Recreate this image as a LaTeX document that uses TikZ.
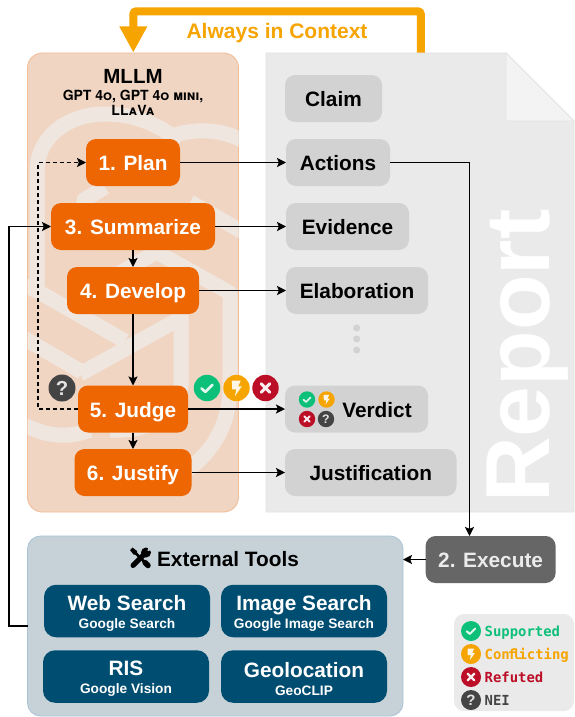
\documentclass[tikz,border=0pt]{standalone}
\usepackage{fontspec}
\setmainfont{Liberation Sans}
\newfontfamily\monof{DejaVu Sans Mono}
\newfontfamily\herosf{TeX Gyre Heros}
\usetikzlibrary{arrows.meta,calc}
\definecolor{panelc}{HTML}{F0D5C2}
\definecolor{paneld}{HTML}{F2BE98}
\definecolor{logoc}{HTML}{F0E6E0}
\definecolor{pagec}{HTML}{EAEAEA}
\definecolor{paged}{HTML}{E3E3E3}
\definecolor{foldc}{HTML}{F3F3F3}
\definecolor{orangec}{HTML}{EE6602}
\definecolor{grayc}{HTML}{D2D2D2}
\definecolor{execc}{HTML}{666666}
\definecolor{toolc}{HTML}{C6D2D8}
\definecolor{toold}{HTML}{A8C4D6}
\definecolor{blueb}{HTML}{004D72}
\definecolor{greenc}{HTML}{0DC07A}
\definecolor{yellowc}{HTML}{F6A400}
\definecolor{redc}{HTML}{BC0E26}
\definecolor{darkc}{HTML}{444444}
\newcommand\fs[1]{\fontsize{#1}{#1}\selectfont}
% symbols on named circles: name, x, y, radius
\newcommand\disc[5]{\node[circle,fill=#5,draw=none,minimum size=#4*2pt,inner sep=0pt,outer sep=0pt] (#1) at (#2,#3) {};}
\newcommand\checkicon[4]{\disc{#1}{#2}{#3}{#4}{greenc}
  \draw[white!88!greenc,line width=#4*.2pt,line cap=round,line join=round,x=#4pt,y=-#4pt,shift={(#1.center)}] (-.42,.03)--(-.12,.3)--(.42,-.25);}
\newcommand\crossicon[4]{\disc{#1}{#2}{#3}{#4}{redc}
  \draw[white!92!redc,line width=#4*.22pt,line cap=round,x=#4pt,y=-#4pt,shift={(#1.center)}] (-.33,-.33)--(.33,.33) (-.33,.33)--(.33,-.33);}
\newcommand\bolticon[4]{\disc{#1}{#2}{#3}{#4}{yellowc}
  \fill[white!90!yellowc,x=#4pt,y=-#4pt,shift={(#1.center)}] (-.35,-.55)--(.32,-.55)--(.12,-.12)--(.4,-.12)--(-.12,.62)--(-.02,.1)--(-.33,.1)--cycle;}
\newcommand\queryicon[4]{\disc{#1}{#2}{#3}{#4}{darkc}
  \pgfmathsetmacro\qsz{#4*1.5}
  \node[text=white!85!darkc,inner sep=0pt,font=\bfseries\fs{\qsz}] at (#1.center) {?};}
\tikzset{
  bx/.style={rectangle,rounded corners=10pt,draw=none,outer sep=0pt,inner sep=0pt,align=center,text height=16pt,text depth=0pt,font=\bfseries\fs{20.8}},
  llmbox/.style={bx,fill=orangec,text=white},
  repbox/.style={bx,fill=grayc,text=black},
  execbox/.style={bx,fill=execc,text=white!92!black},
  toolbox/.style={rectangle,rounded corners=12pt,draw=none,fill=blueb,outer sep=0pt,inner sep=0pt},
  toollabel/.style={inner sep=0pt,text=white,align=center,font=\bfseries\fontsize{20.8}{18}\selectfont},
  conn/.style={line width=1.4pt,-{Stealth[length=9pt,width=9pt,inset=1.8pt]}},
  dashconn/.style={conn,dash pattern=on 4pt off 3pt},
  logoline/.style={logoc,line width=15pt,line cap=butt,line join=round},
  legendtxt/.style={anchor=base west,inner sep=0pt,font=\monof\bfseries\fs{13.9}},
}
\begin{document}
\begin{tikzpicture}[x=1pt,y=-1pt]
\useasboundingbox (0,0) rectangle (574,717);
\fill[white] (0,0) rectangle (574,717);

% named ends of the context connector
\coordinate (ctxstart) at (420.8,54);
\coordinate (ctxtopr) at (420.8,11.3);
\coordinate (ctxtopl) at (133.3,11.3);
\coordinate (ctxend) at (133.3,52.5);
\draw[yellowc,line width=8pt,rounded corners=3pt,-{Triangle[length=26pt,width=26pt]}] (ctxstart)--(ctxtopr)--(ctxtopl)--(ctxend);
\node[text=yellowc,inner sep=0pt,font=\bfseries\fs{21}] (always) at (277,33) {Always in Context};

% MLLM panel
\node[rectangle,rounded corners=15pt,fill=panelc,draw=paneld,line width=.9pt,minimum width=211pt,minimum height=459pt,outer sep=0pt] (mllm) at (133,282.5) {};
\begin{scope}
\clip[rounded corners=15pt] (27.5,53) rectangle (238.5,512);
\draw[logoline] (37,292)--(37,172) .. controls (37,135) and (70,114) .. (105,114) .. controls (135,114) and (160,125) .. (180,142);
\draw[logoline] (172,136) .. controls (195,128) and (225,128) .. (250,145);
\draw[logoline] (15,281)--(37,291)--(125,341);
\draw[logoline] (15,333)--(82,372);
\draw[logoline] (80,374)--(181,318);
\draw[logoline] (181,311)--(181,385) .. controls (181,412) and (155,432) .. (110,430);
\draw[logoline] (153,250)--(230,293)--(230,385) .. controls (230,425) and (212,455) .. (180,475);
\draw[logoline] (190,202)--(250,236);
\draw[logoline] (84,250)--(84,200)--(105,187);
\draw[logoline] (165,247)--(120,273);
\draw[logoline] (15,420) .. controls (40,435) and (65,440) .. (90,430);
\end{scope}
\node[inner sep=0pt,font=\bfseries\fs{20.5}] (mllmt) at (133,76) {MLLM};
\node[inner sep=0pt,align=center,font=\herosf\bfseries\scshape\fontsize{14}{15}\selectfont] (mllms) at (133,103) {GPT 4o, GPT 4o mini,\\LLaVa};

% Report page
\coordinate (pa) at (266,53);
\coordinate (pb) at (506,53);
\coordinate (pc) at (574,121);
\coordinate (pd) at (574,512);
\coordinate (pe) at (266,512);
\coordinate (pf) at (506,121);
\filldraw[fill=pagec,draw=paged,line width=.8pt] (pa)--(pb)--(pc)--(pd)--(pe)--cycle;
\filldraw[fill=foldc,draw=paged,line width=.8pt] (pb)--(pc)--(pf)--cycle;
\node[rotate=90,anchor=base west,inner sep=0pt,text=white,font=\bfseries\fs{91}] (report) at (549,503) {Report};

% steps
\node[llmbox,minimum width=94pt,minimum height=47pt] (plan) at (133,162.5) {1. Plan};
\node[llmbox,minimum width=164pt,minimum height=47pt] (summ) at (133,226.5) {3. Summarize};
\node[llmbox,minimum width=132pt,minimum height=47pt] (dev) at (133,290.5) {4. Develop};
\node[llmbox,minimum width=110pt,minimum height=47pt] (judge) at (133,409) {5. Judge};
\node[llmbox,minimum width=117pt,minimum height=47pt] (just) at (133,472.5) {6. Justify};

% report entries
\node[repbox,minimum width=97pt,minimum height=47pt] (claim) at (333.5,98.5) {Claim};
\node[repbox,minimum width=104pt,minimum height=47pt] (actions) at (338,162.5) {Actions};
\node[repbox,minimum width=123pt,minimum height=47pt] (evid) at (347.5,226.5) {Evidence};
\node[repbox,minimum width=142pt,minimum height=47pt] (elab) at (357,290.5) {Elaboration};
\node[repbox,minimum width=143pt,minimum height=47pt] (verd) at (356.5,409) {};
\node[inner sep=0pt,text height=16pt,text depth=0pt,font=\bfseries\fs{20.8}] (verdt) at (377,409) {Verdict};
\node[repbox,minimum width=171.5pt,minimum height=47pt] (justn) at (370.75,472.5) {Justification};
\fill[grayc] (356.7,328) circle (3.5) (356.7,339) circle (3.5) (356.7,350) circle (3.5);

% verdict icons
\checkicon{ga}{207}{388}{13.2}
\bolticon{ya}{236.5}{388}{13.2}
\crossicon{ra}{265.5}{388}{13.2}
\queryicon{qa}{62}{388}{13.5}
\checkicon{gb}{307}{399.5}{8.2}
\bolticon{yb}{326.5}{399.5}{8.2}
\crossicon{rb}{307}{419}{8.2}
\queryicon{qb}{326}{419}{8.2}

% execute and tools
\node[execbox,minimum width=130pt,minimum height=47pt] (exec) at (490.6,559.5) {2. Execute};
\node[rectangle,rounded corners=13pt,fill=toolc,draw=toold,line width=.8pt,minimum width=375.5pt,minimum height=180pt,outer sep=0pt] (ext) at (215.25,626) {};
\node[inner sep=0pt,text height=16pt,text depth=0pt,font=\bfseries\fs{20.8}] (extt) at (228,558) {External Tools};
\begin{scope}[shift={(140.5,558)}]
  \draw[black,line width=2.6pt] (-6,-6)--(5,5);
  \draw[black,line width=5.5pt,line cap=round] (4.5,4.5)--(7.5,7.5);
  \fill[black] (-10.5,-8)--(-8,-10.5)--(-3.5,-7)--(-3,-3)--(-7,-3.5)--cycle;
  \draw[black,line width=5pt,line cap=round] (-7.5,7.5)--(4,-4);
  \fill[black] (5.5,-5.5) circle (5);
  \fill[toolc] (7,-7)--(8,-11.5)--(12,-11.5)--(12,-8)--cycle;
\end{scope}
\node[toolbox,minimum width=166pt,minimum height=52.5pt] (web) at (127,611) {};
\node[toollabel,yshift=-2.5pt] (webt) at (web) {Web Search\\{\bfseries\fs{13.7}Google Search}};
\node[toolbox,minimum width=166pt,minimum height=52.5pt] (img) at (304,611) {};
\node[toollabel,yshift=-2.5pt] (imgt) at (img) {Image Search\\{\bfseries\fs{13.7}Google Image Search}};
\node[toolbox,minimum width=166pt,minimum height=52.5pt] (ris) at (126,676.5) {};
\node[toollabel,yshift=-2.5pt] (rist) at (ris) {RIS\\{\bfseries\fs{13.7}Google Vision}};
\node[toolbox,minimum width=166pt,minimum height=52.5pt] (geo) at (304,676.5) {};
\node[toollabel,yshift=-2.5pt] (geot) at (geo) {Geolocation\\{\bfseries\fs{13.7}GeoCLIP}};

% legend
\node[rectangle,rounded corners=10pt,fill=pagec,draw=none,minimum width=120pt,minimum height=97pt,outer sep=0pt] (legend) at (514,662.5) {};
\checkicon{lg}{471}{631}{10}
\bolticon{ly}{471}{654}{10}
\crossicon{lr}{471}{677}{10}
\queryicon{lq}{471}{700}{10}
\node[legendtxt,text=greenc] (lgt) at (484.5,636) {Supported};
\node[legendtxt,text=yellowc] (lyt) at (484.5,659) {Con\kern-2pt f\kern-3.5pt l\kern-2.5pt icting};
\node[legendtxt,text=redc] (lrt) at (484.5,682) {Refuted};
\node[legendtxt,text=darkc] (lqt) at (484.5,705) {NEI};

% connectors
\draw[conn] (plan.east)--(actions.west);
\draw[conn] (summ.east)--(evid.west);
\draw[conn] (dev.east)--(elab.west);
\draw[conn] (judge.east)--(verd.west);
\draw[conn] (just.east)--(justn.west);
\draw[conn] (summ.south)--(dev.north);
\draw[conn] (dev.south)--(judge.north);
\draw[conn] (judge.south)--(just.north);
\coordinate (acttopr) at (469.5,162.5);
\draw[conn] (actions.east)--(acttopr)--(acttopr|-exec.north);
\draw[conn] (exec.west)--(ext.east|-exec.west);
\coordinate (extl) at (9,626);
\draw[conn] (ext.west)--(extl)|-(summ.west);
\coordinate (dashl) at (38,409);
\draw[dashconn] (judge.west)--(dashl)|-(plan.west);
\end{tikzpicture}
\end{document}
